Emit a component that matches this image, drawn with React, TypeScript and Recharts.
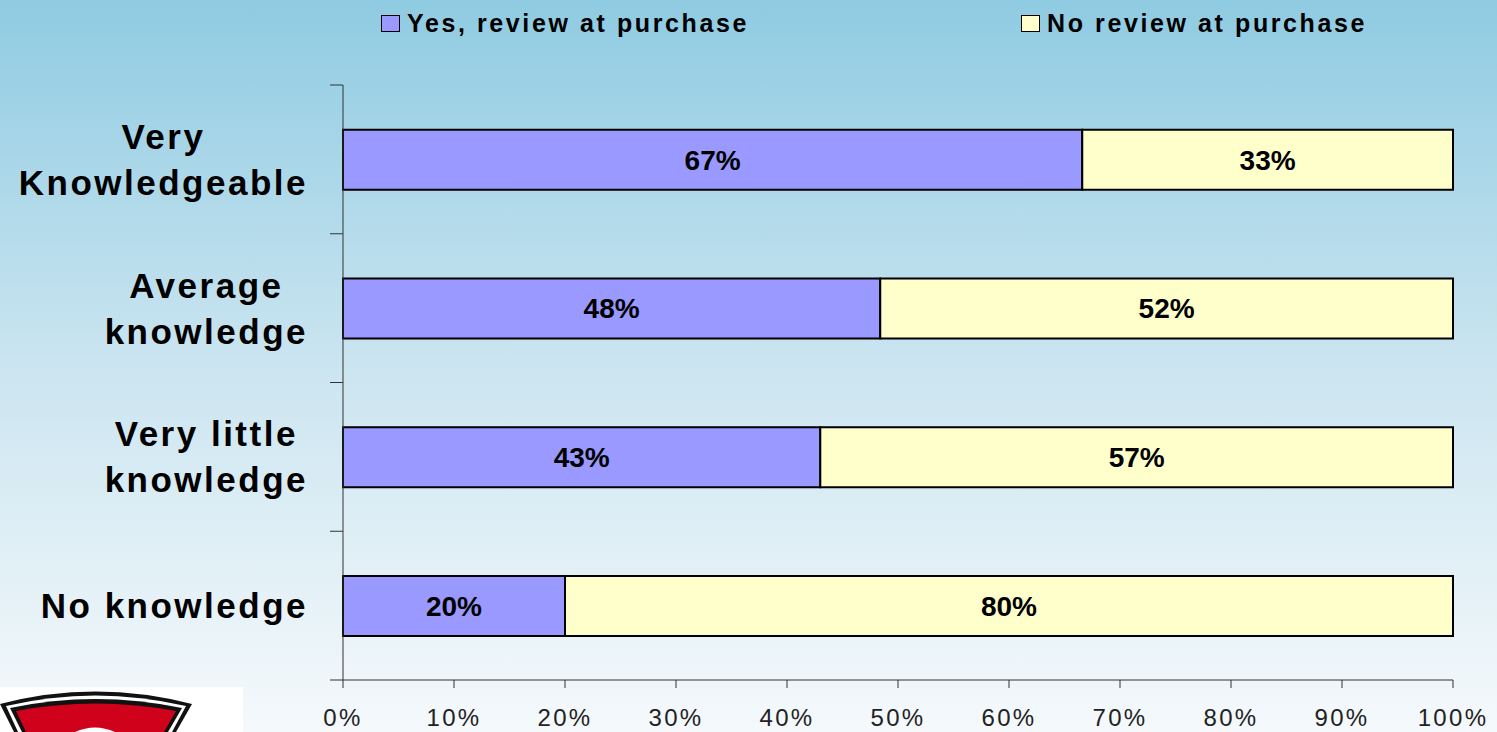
import { BarChart, Bar, XAxis, YAxis, LabelList } from 'recharts'

const categories = ['Very\nKnowledgeable', 'Average\nknowledge', 'Very little\nknowledge', 'No knowledge']
const yesReview = [66.6, 48.4, 43, 20]
const noReview = [33.4, 51.6, 57, 80]
const xTicks = [0, 10, 20, 30, 40, 50, 60, 70, 80, 90, 100]

const seriesNames = { yes: 'Yes, review at purchase', no: 'No review at purchase' }

const data = categories.map((name, i) => ({ name, yes: yesReview[i], no: noReview[i] }))

const FONT = '"Liberation Sans", Arial, sans-serif'
const YES_FILL = '#9999ff'
const NO_FILL = '#ffffcc'
const AXIS = '#333'

const pct = (v: any) => `${Math.round(Number(v))}%`

let measureCtx: CanvasRenderingContext2D | null = null
function textWidth(text: string, font: string, spacing: number) {
  if (!measureCtx) measureCtx = document.createElement('canvas').getContext('2d')
  if (!measureCtx) return text.length * 20
  measureCtx.font = font
  return measureCtx.measureText(text).width + spacing * text.length
}

// category label, plus the tick marks that sit between the bands (Excel style)
function CategoryTick({ x, y, payload, index, height, visibleTicksCount }: any) {
  const count = visibleTicksCount || categories.length
  const band = (Number(height) || 595) / count
  const lines = String(payload.value).split('\n')
  const widest = Math.max(...lines.map((l) => textWidth(l, `700 35px ${FONT}`, 2.5)))
  const cx = x - 35 - widest / 2
  const first = y - ((lines.length - 1) * 46) / 2 + 12.5
  return (
    <g>
      <line x1={x - 13} x2={x} y1={y - band / 2} y2={y - band / 2} stroke={AXIS} />
      {index === count - 1 && <line x1={x - 13} x2={x} y1={y + band / 2} y2={y + band / 2} stroke={AXIS} />}
      {lines.map((line, i) => (
        <text
          key={i}
          x={cx}
          y={first + i * 46}
          textAnchor="middle"
          fontFamily={FONT}
          fontWeight={700}
          fontSize={35}
          letterSpacing={2.5}
          fill="#000"
        >
          {line}
        </text>
      ))}
    </g>
  )
}

function TopLegend() {
  const item = (label: string, fill: string, left: number) => (
    <div style={{ position: 'absolute', left, top: 14, display: 'flex', alignItems: 'center' }}>
      <span
        style={{
          width: 17,
          height: 15,
          background: fill,
          border: '1.5px solid #000',
          marginRight: 7,
          display: 'inline-block',
        }}
      />
      <span style={{ fontFamily: FONT, fontWeight: 700, fontSize: 25, letterSpacing: 2.6, color: '#000', lineHeight: '18px' }}>
        {label}
      </span>
    </div>
  )
  return (
    <div style={{ position: 'absolute', left: 0, top: 0, width: 1497, height: 40 }}>
      {item(seriesNames.yes, YES_FILL, 381)}
      {item(seriesNames.no, NO_FILL, 1021)}
    </div>
  )
}

function Logo() {
  return (
    <svg width={243} height={45} style={{ position: 'absolute', left: 0, top: 687 }}>
      <rect x={0} y={0} width={243} height={45} fill="#fff" />
      <path d="M0 17 Q95 -8 192 17 L176 45 L14 45 Z" fill="#111" />
      <path d="M6 19 Q95 -2 186 19 L172 45 L18 45 Z" fill="#fff" />
      <path d="M10 21 Q95 3 182 21 L168 45 L22 45 Z" fill="#111" />
      <path d="M16 24 Q95 9 176 24 L164 45 L26 45 Z" fill="#d0021b" />
      <path d="M75 45 Q95 36 115 45 Z" fill="#fff" />
    </svg>
  )
}

export default function App() {
  return (
    <div
      style={{
        position: 'fixed',
        left: 0,
        top: 0,
        width: 1497,
        height: 732,
        background: 'linear-gradient(to bottom, #8fcbe2 0%, #cbe5f0 50%, #f5f9fc 100%)',
        overflow: 'hidden',
      }}
    >
      <BarChart
        width={1497}
        height={732}
        data={data}
        layout="vertical"
        margin={{ top: 85, right: 44, bottom: 0, left: 0 }}
        barCategoryGap="30%"
      >
        <XAxis
          type="number"
          domain={[0, 100]}
          ticks={xTicks}
          interval={0}
          height={52}
          tickSize={8}
          tickMargin={21}
          tickFormatter={(v: number) => `${v}%`}
          stroke={AXIS}
          tick={{ fontFamily: FONT, fontSize: 24, letterSpacing: 2.3, fill: '#222' }}
        />
        <YAxis
          type="category"
          dataKey="name"
          width={343}
          tickSize={0}
          tickMargin={0}
          tickLine={false}
          stroke={AXIS}
          interval={0}
          tick={<CategoryTick />}
        />
        <Bar dataKey="yes" name={seriesNames.yes} stackId="a" fill={YES_FILL} stroke="#000" strokeWidth={2} isAnimationActive={false}>
          <LabelList
            dataKey="yes"
            position="center"
            formatter={pct}
            style={{ fontFamily: FONT, fontWeight: 700, fontSize: 28, fill: '#000' }}
          />
        </Bar>
        <Bar dataKey="no" name={seriesNames.no} stackId="a" fill={NO_FILL} stroke="#000" strokeWidth={2} isAnimationActive={false}>
          <LabelList
            dataKey="no"
            position="center"
            formatter={pct}
            style={{ fontFamily: FONT, fontWeight: 700, fontSize: 28, fill: '#000' }}
          />
        </Bar>
      </BarChart>
      <TopLegend />
      <Logo />
    </div>
  )
}
